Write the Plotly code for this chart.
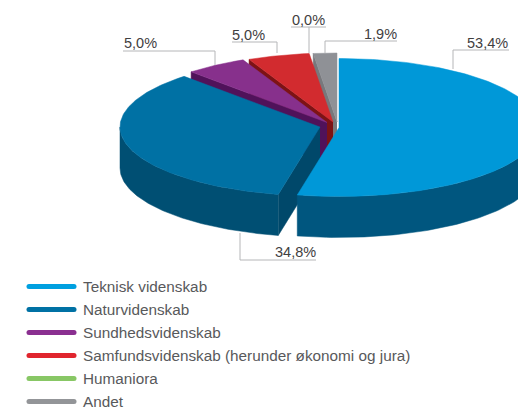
import numpy as np
import plotly.graph_objects as go

categories = ["Teknisk videnskab", "Naturvidenskab", "Sundhedsvidenskab",
              "Samfundsvidenskab (herunder økonomi og jura)", "Humaniora", "Andet"]
values = [53.4, 34.8, 5.0, 5.0, 0.0, 1.9]
value_labels = ["53,4%", "34,8%", "5,0%", "5,0%", "0,0%", "1,9%"]

# styling / layout
top_colors = ["#0098d8", "#0071a4", "#87308c", "#d22b2f", "#88c765", "#8f9196"]
wall_colors = ["#00567f", "#004f73", "#50125a", "#7d1315", "#5a8a40", "#6b6b6f"]
cut_colors = ["#00567f", "#00486a", "#50125a", "#7d1315", "#5a8a40", "#77787c"]
legend_colors = ["#00a0e0", "#0071a4", "#8a2f90", "#e0252e", "#88c765", "#939598"]
centers = [(339, 127.5), (320, 127), (327, 122.5), (333, 122), (336, 122), (337, 122)]
RX, RY, DEPTH = 200, 69, 41
leaders = [
    ([453, 453, 509], [69, 50, 50], (487, 43)),
    ([240, 240, 316], [233, 260, 260], (295, 252)),
    ([215, 215, 123], [65, 51, 51], (140, 43)),
    ([277, 277, 232], [53, 42, 42], (248, 35)),
    ([291, 326, None, 309, 309], [27, 27, None, 27, 53], (308, 20)),
    ([325, 325, 397], [53, 41, 41], (380, 34)),
]
legend_y = [286.5, 309.5, 332.5, 355.5, 378.5, 401.5]

fig = go.Figure()


def poly(xs, ys, color):
    fig.add_trace(go.Scatter(x=xs, y=ys, mode="lines", fill="toself", fillcolor=color,
                             line=dict(color=color, width=0.5), hoverinfo="skip", showlegend=False))


total = sum(values)
edges = np.concatenate([[0], np.cumsum(values)]) / total * 2 * np.pi
# Paint from the back of the pie to the front.
for i in [5, 3, 2, 1, 0]:
    cx, cy = centers[i]
    t = np.linspace(edges[i], edges[i + 1], 160)
    ax = cx + RX * np.sin(t)
    ay = cy - RY * np.cos(t)
    # Cut faces facing the viewer
    sx, sy = ax[0], ay[0]
    if np.sin(edges[i]) < 0 or np.cos(edges[i]) < -0.9:
        poly([cx, sx, sx, cx], [cy, sy, sy + DEPTH, cy + DEPTH], cut_colors[i])
    # Outer wall: only the front half of the rim
    front = ay >= cy
    if front.any():
        fx, fy = ax[front], ay[front]
        poly(list(fx) + list(fx[::-1]), list(fy) + list(fy[::-1] + DEPTH), wall_colors[i])
    poly([cx] + list(ax) + [cx], [cy] + list(ay) + [cy], top_colors[i])

for i, (lx, ly, (tx, ty)) in enumerate(leaders):
    fig.add_trace(go.Scatter(x=lx, y=ly, mode="lines", line=dict(color="#b5b6b8", width=1),
                             hoverinfo="skip", showlegend=False))
    fig.add_annotation(x=tx, y=ty, text=value_labels[i], showarrow=False,
                       font=dict(family="Liberation Sans", size=14.5, color="#3f4041"))

for i, name in enumerate(categories):
    fig.add_trace(go.Scatter(x=[29, 74], y=[legend_y[i]] * 2, mode="lines+markers",
                             line=dict(color=legend_colors[i], width=5),
                             marker=dict(color=legend_colors[i], size=5),
                             hoverinfo="skip", showlegend=False))
    fig.add_annotation(x=81, y=legend_y[i], text=name, showarrow=False, xanchor="left",
                       font=dict(family="Liberation Sans", size=15.3, color="#58595b"))

fig.update_layout(width=518, height=411, margin=dict(l=0, r=0, t=0, b=0),
                  paper_bgcolor="white", plot_bgcolor="white",
                  xaxis=dict(range=[0, 518], visible=False, fixedrange=True),
                  yaxis=dict(range=[411, 0], visible=False, fixedrange=True))
fig.write_html("out.html", config=dict(displayModeBar=False),
               post_script="document.body.style.margin='0';document.documentElement.style.overflow='hidden';")
